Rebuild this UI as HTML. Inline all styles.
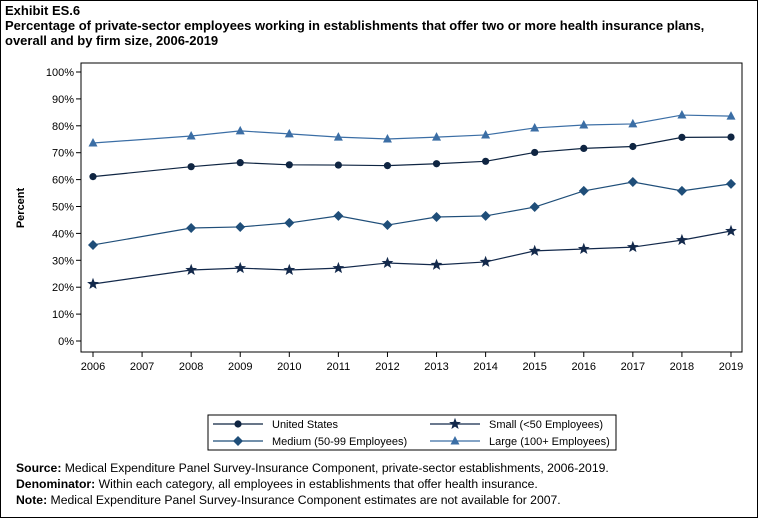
<!DOCTYPE html>
<html><head><meta charset="utf-8"><style>
body{margin:0;background:#fff;font-family:"Liberation Sans",Arial,sans-serif}
#wrap{position:relative;width:756px;height:516px;border:1px solid #000;overflow:hidden}
.t{position:absolute;left:4px;font-weight:bold;font-size:13px;color:#000}
.f{position:absolute;left:15px;font-size:12.2px}
</style></head><body>
<div id="wrap">
<div class="t" style="top:2px">Exhibit ES.6</div>
<div class="t" style="top:17px;line-height:15px">Percentage of private-sector employees working in establishments that offer two or more health insurance plans,<br>overall and by firm size, 2006-2019</div>
<svg id="c" width="756" height="516" style="position:absolute;left:0;top:0"></svg>
<div class="f" style="top:460px"><b>Source:</b> Medical Expenditure Panel Survey-Insurance Component, private-sector establishments, 2006-2019.</div>
<div class="f" style="top:476px"><b>Denominator:</b> Within each category, all employees in establishments that offer health insurance.</div>
<div class="f" style="top:492px"><b>Note:</b> Medical Expenditure Panel Survey-Insurance Component estimates are not available for 2007.</div>
</div>
<script>
const years=[2006,2008,2009,2010,2011,2012,2013,2014,2015,2016,2017,2018,2019];
const xTicks=[2006,2007,2008,2009,2010,2011,2012,2013,2014,2015,2016,2017,2018,2019];
const yTicks=[0,10,20,30,40,50,60,70,80,90,100];
const usVals=[61.1,64.8,66.3,65.5,65.4,65.2,65.9,66.8,70.1,71.6,72.3,75.7,75.8];
const largeVals=[73.6,76.2,78.1,77.0,75.8,75.1,75.8,76.6,79.2,80.3,80.7,84.0,83.6];
const mediumVals=[35.7,42.0,42.4,43.9,46.5,43.1,46.1,46.5,49.8,55.8,59.1,55.8,58.4];
const smallVals=[21.2,26.4,27.1,26.4,27.1,29.0,28.3,29.4,33.5,34.2,34.9,37.5,40.9];
const NS='http://www.w3.org/2000/svg',svg=document.getElementById('c');
const x=v=>92+(v-2006)*(638/13), y=v=>340-v*2.69;
function mk(t,a,p){const e=document.createElementNS(NS,t);for(const k in a)e.setAttribute(k,a[k]);(p||svg).appendChild(e);return e;}
const r=mk('rect',{x:80,y:62,width:661,height:289,fill:'none',stroke:'#000'});


yTicks.forEach(v=>{mk('line',{x1:75,x2:80,y1:y(v),y2:y(v),stroke:'#000'});
const t=mk('text',{x:73,y:y(v)+4,'text-anchor':'end','font-size':11});t.textContent=v+'%';

});
xTicks.forEach(v=>{mk('line',{x1:x(v),x2:x(v),y1:351,y2:356,stroke:'#000'});
const t=mk('text',{x:x(v),y:369,'text-anchor':'middle','font-size':11});t.textContent=v;

});
const yt=mk('text',{x:0,y:0,transform:'translate(23,207) rotate(-90)','text-anchor':'middle','font-size':11,'font-weight':'bold'});yt.textContent='Percent';


function marker(type,cx,cy,col,g){
 if(type==='circle')return mk('circle',{cx,cy,r:3.6,fill:col},g);
 if(type==='diamond')return mk('polygon',{points:`${cx},${cy-5} ${cx+5},${cy} ${cx},${cy+5} ${cx-5},${cy}`,fill:col},g);
 if(type==='tri')return mk('polygon',{points:`${cx},${cy-5} ${cx+4.5},${cy+3.5} ${cx-4.5},${cy+3.5}`,fill:col},g);
 let p=[];for(let i=0;i<10;i++){const a=-Math.PI/2+i*Math.PI/5,rr=i%2?2.6:6.2;p.push((cx+rr*Math.cos(a)).toFixed(1)+','+(cy+rr*Math.sin(a)).toFixed(1));}
 return mk('polygon',{points:p.join(' '),fill:col},g);
}
const series=[[usVals,'circle','#0f2542','series-united-states'],[largeVals,'tri','#3b6ea5','series-large'],[mediumVals,'diamond','#1f4e79','series-medium'],[smallVals,'star','#13294b','series-small']];
series.forEach(([vals,m,col,name])=>{
 const g=mk('g',{});
 
 
 mk('polyline',{points:vals.map((v,i)=>x(years[i])+','+y(v)).join(' '),fill:'none',stroke:col,'stroke-width':1.2},g);
 vals.forEach((v,i)=>{const e=marker(m,x(years[i]),y(v),col,g);
 
 });
});
const lg=mk('g',{});


mk('rect',{x:207,y:414,width:408,height:35,fill:'none',stroke:'#000'},lg);
[['United States','circle','#0f2542',212,423],['Small (<50 Employees)','star','#13294b',429,423],['Medium (50-99 Employees)','diamond','#1f4e79',212,440],['Large (100+ Employees)','tri','#3b6ea5',429,440]].forEach(([lab,m,col,lx,ly])=>{
 const g=mk('g',{},lg);
 
 
 mk('line',{x1:lx,x2:lx+50,y1:ly,y2:ly,stroke:col,'stroke-width':1.2},g);
 marker(m,lx+25,ly,col,g);
 const t=mk('text',{x:lx+59,y:ly+4,'font-size':11},g);t.textContent=lab;
});
</script>
</body></html>
